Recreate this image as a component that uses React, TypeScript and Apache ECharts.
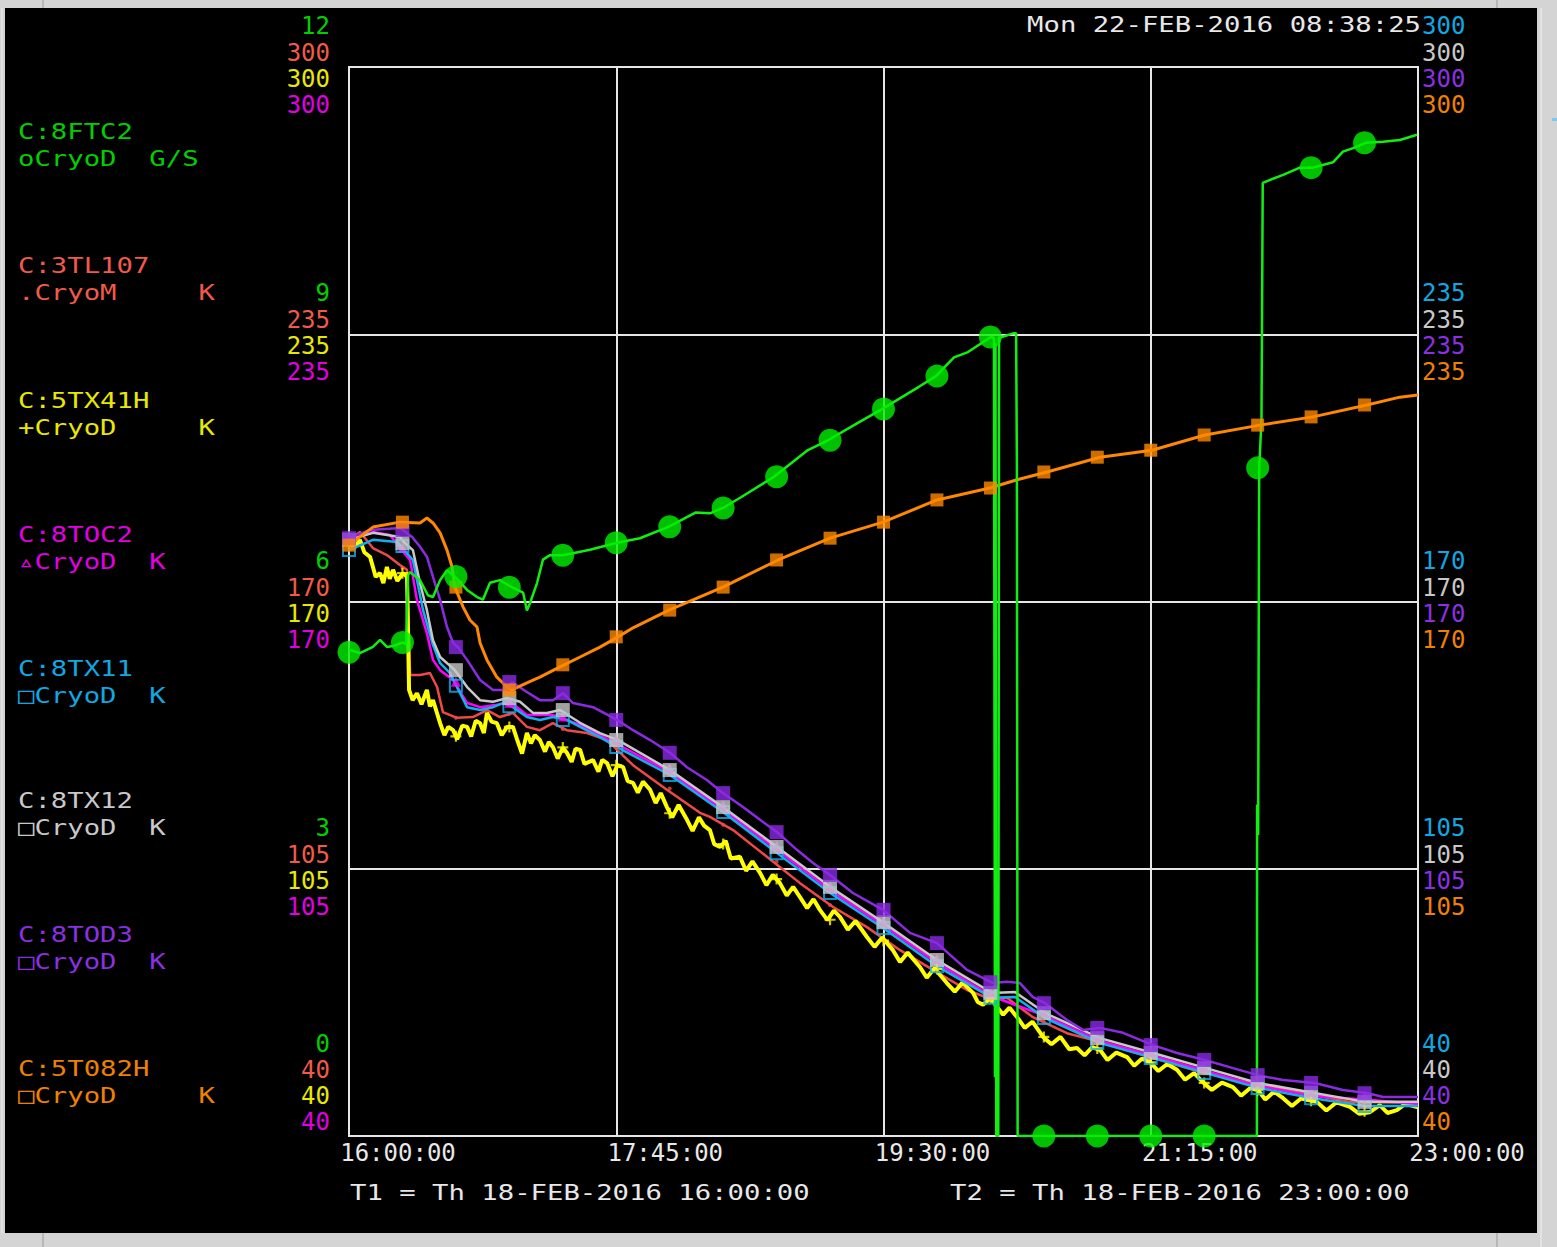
import React, { useEffect, useRef } from 'react';
import * as echarts from 'echarts';

// ---------- axes / ticks ----------
const TIME_LABELS = ['16:00:00', '17:45:00', '19:30:00', '21:15:00', '23:00:00'];
const TIME_STEP = 105; // minutes after 16:00
const K_TICKS = [40, 105, 170, 235, 300];
const G_TICKS = [0, 3, 6, 9, 12];
const MARK_T = [0, 21, 42, 63, 84, 105, 126, 147, 168, 189, 210, 231, 252, 273, 294, 315, 336, 357, 378, 399];

// ---------- series (t = minutes after 16:00) ----------
const FTC2: number[][] = [[0,5.46],[4.3,5.42],[9.4,5.49],[12.2,5.57],[14.9,5.49],[17.3,5.5],[21.2,5.54],[22.4,5.52],[23.2,6.3],[24,6.33],[27.9,6.24],[31,6.07],[33,6.05],[35.8,6.24],[38.5,6.35],[41.6,6.28],[46.4,6.13],[50.3,6.05],[52.6,6.02],[55.4,6.21],[59.3,6.24],[64,6.16],[68.4,6.1],[69.9,5.9],[71.1,5.98],[73.9,6.21],[76.2,6.47],[79,6.52],[84.1,6.52],[94.7,6.58],[105.3,6.66],[114.3,6.71],[125.7,6.84],[136.3,7],[141.8,6.99],[146.9,7.05],[154,7.17],[167,7.4],[180.3,7.7],[188.2,7.81],[199.6,8],[209.4,8.16],[223.9,8.41],[230.6,8.53],[237.7,8.74],[243.2,8.8],[252.2,8.97],[253.4,8.96],[253.8,0.66],[254,8.9],[254.3,0],[255.1,0],[255.4,8.96],[257.7,8.98],[260.9,9.01],[262.1,9.01],[262.4,7.59],[262.7,0],[356.7,0],[356.8,3.72],[357.2,3.38],[357.6,7.5],[358.1,7.79],[358.5,8.04],[359,10.7],[367,10.79],[373.6,10.87],[378.7,10.87],[386.6,10.93],[390.5,11.05],[394.5,11.09],[399.6,11.15],[406.2,11.16],[412.9,11.18],[419.6,11.24]];
const FTC2_MARKS = [5.43,5.54,6.28,6.16,6.52,6.66,6.84,7.05,7.4,7.81,8.16,8.53,8.97,0,0,0,0,7.5,10.87,11.15];

const TL107: number[][] = [[0,185],[4.3,186.9],[9.4,183],[14.9,181.3],[20,178.9],[22.8,177.7],[24,152.1],[27.9,152.1],[31.8,152.6],[34.6,149.2],[36.9,143.1],[42.4,141.7],[48.7,141.9],[54.2,143.6],[59.3,141.9],[64.4,142.9],[69.9,139.5],[75,138.7],[80.1,140.4],[85.6,138.7],[93.5,138],[101.4,136.3],[111.6,130.2],[124.9,124.2],[137.9,118.6],[141.8,117.6],[150.9,114.4],[164.2,107.9],[177.2,101.5],[190.2,95.7],[203.5,90.8],[216.5,85.2],[229.4,80.4],[242.8,75.5],[253,73.1],[258.5,73.6],[268.7,68.9],[282.1,65],[295.1,62.9],[314.7,59.2],[334.3,55.6],[354,52.9],[373.6,50.5],[393.3,48.3],[420,48]];
const TL107_MARKS = [185,178.2,141.7,142.7,139,134.5,124.5,115.7,106.7,96.2,87.4,80,73.4,67.8,63,59.2,55.4,52.2,50,48.1];

const TX41H: number[][] = [[0,184.2],[2,183],[4.3,185],[6,182],[8.3,180.8],[9.4,178.4],[10.5,176],[12.2,176.9],[13.5,174.5],[14.9,178.4],[16,175.5],[17.3,177.7],[19,175],[21.2,176.9],[22.8,176],[23.6,148.5],[25,146],[26.7,147.7],[28.5,145],[30.6,148.5],[31.8,144.5],[33,146],[34.5,143],[35.8,140.4],[37.5,137.5],[39,139.5],[40.9,138.7],[42.5,136.5],[44.5,139.8],[46.4,139.5],[48,137.2],[49.8,141],[51.5,140.4],[53,138],[54.2,142.9],[56,140.8],[58.1,140.4],[60,137.5],[62.1,139.5],[64.4,139.5],[66,136.5],[68,133],[69.9,138],[71.5,135.5],[73,137.5],[75,136.3],[77,133.5],[78.5,135.8],[80.1,134.6],[82,131.8],[84,134.5],[85.6,133.2],[87.5,131],[89,134.2],[90.8,133.9],[92.5,130.5],[95.9,131.4],[98,128.6],[99.5,131.5],[101.4,130.7],[103.5,127.5],[105.5,130.2],[107.7,129.7],[109.5,126.3],[111.6,125.9],[113.5,123.5],[115.5,126.2],[118.3,124.2],[120.5,121],[122.5,123.4],[124.9,120],[127,117.5],[129.5,120.5],[132.8,116.9],[135,114.2],[137.5,117.5],[139.5,115.5],[141.8,114.4],[143.5,111],[145.8,110.3],[148,111.8],[150,107.5],[153.6,107.9],[156,104.5],[158.5,106.8],[161.5,104],[164,101],[166.5,103.5],[169.3,101.5],[172,98.5],[174.5,100.6],[177.2,98.1],[180,95.4],[182.5,97.6],[185,95],[188,92.5],[190.5,94.8],[192.9,93.3],[196,90.2],[199,92.3],[203.5,88.4],[206.5,86],[209.5,88.3],[213.7,85.2],[216.5,82.3],[219.5,84.6],[224.3,81.1],[227,78.5],[230,80.8],[234.9,77.2],[238,75.1],[241,77.3],[245.2,74.8],[247,72.6],[249.1,71.9],[252,73.5],[254.6,71.4],[257,69.5],[259.5,71.2],[262.5,68.9],[265.5,66.3],[268.5,67.8],[272.7,64.1],[276,62.3],[279.5,64.1],[283,61.1],[286,61.4],[289,59.6],[292,61.6],[295.1,60.9],[298,58.5],[301.5,60.3],[305.7,59.2],[308.5,57.1],[311.5,58.8],[314.7,58],[318,55.8],[321.5,57.5],[325.3,56.1],[328.5,53.7],[332,55.3],[335.5,53.1],[339,51.2],[343,53],[347.3,51.9],[350.5,49.8],[354,51.6],[357.1,51.2],[360,48.9],[363.5,50.8],[367,49.2],[370.5,47.3],[374,49.1],[380.3,48.3],[384,46.2],[388,48.2],[393.3,47.1],[397,45.4],[401.1,45.8],[405,47.5],[408,45.6],[411.7,46.3],[415,47.8],[420,47]];
const TX41H_MARKS = [184.2,176.9,137.2,139.5,134.5,130.2,118.5,111,102.5,92.6,87.5,80.6,73.5,64.1,61.3,57.9,52.9,51.2,48.6,46];

const TOC2: number[][] = [[0,185],[9.4,186.9],[16.1,186.2],[20,183],[24,180.1],[26.7,170.4],[30.6,162.3],[33,155.8],[35.8,153.3],[40.9,150.9],[46.4,145.3],[51.5,144.3],[57.4,144.8],[63.3,145.6],[69.9,142.4],[80.1,142.4],[90.8,140],[105.3,135.3],[126.1,128.5],[146.9,119.5],[168.2,109.6],[189,99.8],[209.8,91.3],[231,82.1],[252.6,74],[273.5,69.2],[295.1,63.1],[315.9,59.5],[336.7,55.8],[357.1,52.2],[378.7,49.7],[400.4,48.8],[420,47.8]];
const TOC2_MARKS = [185,183,150.5,145.4,142,136.5,129.5,120.5,110.6,100.8,92.3,83.1,75,70.2,64.1,60.5,56.8,53.2,50.7,49.8];

const TX11: number[][] = [[0,182.5],[9.4,185],[18.9,184.5],[25.1,180.1],[29.1,167.9],[33,159.4],[35.8,155],[39.7,152.6],[42.4,149.2],[46.4,144.3],[51.5,143.6],[56.6,144.3],[60.5,145.3],[64.4,144.3],[69.9,141.9],[75,141.2],[80.1,141.9],[85.6,141.2],[90.8,139.5],[98.6,137],[105.3,134.6],[126.1,127.8],[146.9,118.8],[168.2,108.8],[189,99.1],[209.8,90.6],[231,81.3],[252.6,73.6],[261.7,73.8],[273.5,68.7],[295.1,62.6],[315.9,59],[336.7,55.3],[357.1,51.7],[378.7,49.2],[399.2,47.3],[420,47.3]];
const TX11_MARKS = [182.5,183.5,149.5,144.5,141.2,134.6,127.8,118.8,108.8,99.1,90.6,81.3,73.6,68.7,62.6,59,55.3,51.7,49.2,47.3];

const TX12: number[][] = [[0,185],[9.4,186.7],[20,185.7],[22,184.2],[25.1,182.5],[27.9,174.5],[30.6,167.9],[33,160.6],[35.8,156.5],[41.6,153.3],[46.4,149.2],[51.5,146],[56.6,145.6],[62.1,146.5],[67.2,145.6],[72.3,142.9],[77.8,142.9],[82.9,143.6],[90.8,140.5],[98.6,138],[105.7,136.3],[126.1,129],[146.9,120],[168.2,110.3],[189,100.6],[209.8,92],[231,82.8],[252.6,74.8],[261.7,75],[273.5,69.9],[295.1,63.8],[315.9,60.2],[336.7,56.5],[357.1,52.9],[378.7,50.5],[399.2,48.3],[420,48.3]];
const TX12_MARKS = [185,184.2,153.3,146.5,143.6,136.3,129,120,110.3,100.6,92,82.8,74.8,69.9,63.8,60.2,56.5,52.9,50.5,48.3];

const TOD3: number[][] = [[0,185.4],[8.3,187.4],[20,187.9],[24.8,185.7],[27.9,183.3],[30.6,180.9],[33,176],[35.8,170.4],[38.5,163.8],[40.9,159.9],[42.8,158.9],[46.4,155.8],[51.5,150.9],[56.6,148.5],[62.1,148.5],[64,150.4],[69.9,148],[75,146],[80.1,146],[84.1,147.7],[88,145.3],[95.9,144.3],[105.3,141.2],[111.6,138.7],[118.3,136.3],[126.1,133.2],[132.8,129.7],[140.6,126.6],[146.9,123.4],[154.8,120],[161.5,116.9],[168.2,113.9],[176,109.6],[182.3,106.4],[189,103.5],[198,99.1],[209.8,95],[220.4,89.4],[231,86.9],[242.8,80.4],[253,77.2],[258.5,77.5],[263.6,77.2],[268.7,73.8],[273.5,72.3],[282.1,68.2],[288.4,65.8],[295.1,66.3],[304.1,65.1],[315.9,62.1],[325.3,60.2],[336.3,58.5],[347.3,56.5],[357.1,54.8],[367,53.6],[379.5,52.9],[390.5,51.2],[400.4,50.4],[406.2,49.5],[420,49.5]];
const TOD3_MARKS = [185.4,187.4,158.9,150.4,147.7,141.2,133.2,123.4,113.9,103.5,95,86.9,77.4,72.3,66.3,62.1,58.5,54.8,52.9,50.4];

const T082H: number[][] = [[0,183.7],[9.4,188.1],[20,189.3],[27.9,189.1],[30.6,190.3],[33,189.1],[35.8,186.7],[38.5,182.5],[40.5,178.4],[41.6,173.5],[44.8,168.7],[47.5,165.5],[50.3,163.8],[51.5,159.9],[54.2,155.8],[58.1,151.6],[62.1,149.2],[64,148.5],[69.9,150.2],[75,151.6],[82.9,154.1],[90.8,156.5],[98.6,158.9],[105.7,161.4],[111.6,163.6],[125.7,167.9],[146.9,173.5],[168.6,180.1],[189,185.4],[209.8,189.3],[231,194.7],[251.8,197.6],[262.5,199.6],[274.2,201.5],[295.1,205.1],[315.5,206.8],[336.3,210.5],[357.9,212.9],[378.7,214.9],[399.9,217.8],[412.9,219.7],[420,220.2]];
const T082H_MARKS = [183.7,189.3,173.5,148.5,154.6,161.4,167.9,173.5,180.1,185.4,189.3,194.7,197.6,201.5,205.1,206.8,210.5,212.9,214.9,217.8];

// ---------- texts ----------
const LEGEND = [
  { name: 'C:8FTC2', unit: 'oCryoD  G/S', y: 131, color: '#00d000' },
  { name: 'C:3TL107', unit: '.CryoM     K', y: 265, color: '#f05a4a' },
  { name: 'C:5TX41H', unit: '+CryoD     K', y: 400, color: '#e8e800' },
  { name: 'C:8TOC2', unit: '\u25B5CryoD  K', y: 534, color: '#e000e0' },
  { name: 'C:8TX11', unit: '\u25A1CryoD  K', y: 668, color: '#10a8e0' },
  { name: 'C:8TX12', unit: '\u25A1CryoD  K', y: 800, color: '#c8c8c8' },
  { name: 'C:8TOD3', unit: '\u25A1CryoD  K', y: 934, color: '#8a30e0' },
  { name: 'C:5T082H', unit: '\u25A1CryoD     K', y: 1068, color: '#f08000' },
];
const DATE_TEXT = 'Mon 22-FEB-2016 08:38:25';
const T1_TEXT = 'T1 = Th 18-FEB-2016 16:00:00';
const T2_TEXT = 'T2 = Th 18-FEB-2016 23:00:00';

const FONT = 'DejaVu Sans Mono';
const AX_FS = 24;
const SHIFT_TOP = [-41, -14, 12, 38];
const SHIFT_BOTTOM = [-92, -66, -40, -14];

function rich(color: string, d: number) {
  return {
    color,
    fontFamily: FONT,
    fontSize: AX_FS,
    padding: d < 0 ? [0, 0, -2 * d, 0] : [2 * d, 0, 0, 0],
  };
}

function yAxis(position: 'left' | 'right', slot: number, color: string, ticks: number[], green = false) {
  const ax: any = {
    type: 'value',
    min: ticks[0],
    max: ticks[ticks.length - 1],
    position,
    offset: 0,
    axisLine: { show: false },
    axisTick: { show: false },
    splitLine: green ? { show: true, lineStyle: { color: '#e6e6e6', width: 2 } } : { show: false },
    axisLabel: {
      margin: position === 'left' ? 19 : 4,
      formatter: (v: number) => (v === ticks[0] ? `{b|${v}}` : `{a|${v}}`),
      rich: { a: rich(color, SHIFT_TOP[slot]), b: rich(color, SHIFT_BOTTOM[slot]) },
    },
  };
  if (green) ax.interval = ticks[1] - ticks[0];
  else ax.axisLabel.customValues = ticks;
  return ax;
}

function line(data: number[][], yi: number, color: string, width: number, z: number) {
  return {
    type: 'line',
    data,
    yAxisIndex: yi,
    showSymbol: false,
    symbol: 'none',
    lineStyle: { color, width },
    z,
    silent: true,
  };
}

function marks(vals: number[], yi: number, symbol: string, size: number, itemStyle: any, z: number) {
  return {
    type: 'scatter',
    data: MARK_T.map((t, i) => [t, vals[i]]),
    yAxisIndex: yi,
    symbol,
    symbolSize: size,
    itemStyle,
    z,
    silent: true,
  };
}

function textEl(text: string, x: number, y: number, color: string, align = 'left') {
  return {
    type: 'text',
    x,
    y,
    scaleX: 1.24,
    silent: true,
    style: { text, fill: color, fontFamily: FONT, fontSize: 22, align, verticalAlign: 'middle' },
  };
}

export default function App() {
  const ref = useRef<HTMLDivElement>(null);
  useEffect(() => {
    const chart = echarts.init(ref.current!, null, { renderer: 'svg' });
    const frame = '#d4d4d4';
    const graphic: any[] = [
      { type: 'rect', shape: { x: 0, y: 0, width: 1557, height: 8 }, style: { fill: frame } },
      { type: 'rect', shape: { x: 0, y: 0, width: 5, height: 1247 }, style: { fill: frame } },
      { type: 'rect', shape: { x: 1537, y: 0, width: 20, height: 1247 }, style: { fill: frame } },
      { type: 'rect', shape: { x: 0, y: 1233, width: 1557, height: 14 }, style: { fill: frame } },
      { type: 'line', shape: { x1: 2, y1: 8, x2: 2, y2: 1233 }, style: { stroke: '#eeeeee', lineWidth: 1 } },
      { type: 'line', shape: { x1: 1541, y1: 8, x2: 1541, y2: 1247 }, style: { stroke: '#f2f2f2', lineWidth: 1 } },
      { type: 'line', shape: { x1: 43, y1: 0, x2: 43, y2: 8 }, style: { stroke: '#9a9a9a', lineWidth: 1 } },
      { type: 'line', shape: { x1: 1497, y1: 0, x2: 1497, y2: 8 }, style: { stroke: '#9a9a9a', lineWidth: 1 } },
      { type: 'line', shape: { x1: 43, y1: 1233, x2: 43, y2: 1247 }, style: { stroke: '#9a9a9a', lineWidth: 1 } },
      { type: 'line', shape: { x1: 1497, y1: 1233, x2: 1497, y2: 1247 }, style: { stroke: '#9a9a9a', lineWidth: 1 } },
      { type: 'rect', shape: { x: 1552, y: 118, width: 5, height: 3 }, style: { fill: '#7ec8ee' } },
      textEl(DATE_TEXT, 1421, 24, '#e8e8e8', 'right'),
      textEl(T1_TEXT, 350, 1192, '#e8e8e8'),
      textEl(T2_TEXT, 950, 1192, '#e8e8e8'),
    ];
    LEGEND.forEach((l) => {
      graphic.push(textEl(l.name, 18, l.y, l.color));
      graphic.push(textEl(l.unit, 18, l.y + 27, l.color));
    });

    const option: any = {
      animation: false,
      backgroundColor: '#000000',
      grid: {
        left: 349,
        top: 67,
        width: 1069,
        height: 1069,
        show: true,
        backgroundColor: '#000000',
        borderColor: '#e6e6e6',
        borderWidth: 2,
      },
      xAxis: {
        type: 'value',
        min: 0,
        max: 420,
        interval: TIME_STEP,
        axisLine: { show: false },
        axisTick: { show: false },
        splitLine: { show: true, lineStyle: { color: '#e6e6e6', width: 2 } },
        axisLabel: {
          margin: 5,
          formatter: (v: number) => `{a|${TIME_LABELS[Math.round(v / TIME_STEP)]}}`,
          rich: { a: { color: '#e8e8e8', fontFamily: FONT, fontSize: AX_FS, padding: [0, 0, 0, 98] } },
        },
      },
      yAxis: [
        yAxis('left', 0, '#00d000', G_TICKS, true),
        yAxis('left', 1, '#f05a4a', K_TICKS),
        yAxis('left', 2, '#e8e800', K_TICKS),
        yAxis('left', 3, '#e000e0', K_TICKS),
        yAxis('right', 0, '#10a8e0', K_TICKS),
        yAxis('right', 1, '#c8c8c8', K_TICKS),
        yAxis('right', 2, '#8a30e0', K_TICKS),
        yAxis('right', 3, '#f08000', K_TICKS),
      ],
      series: [
        line(TL107, 1, '#f04848', 2.5, 3),
        line(TX41H, 2, '#ffff00', 4, 4),
        line(TOC2, 3, '#ff00ff', 2.5, 5),
        line(TX11, 4, '#10b0f0', 2.5, 6),
        line(TX12, 5, '#c8c8c8', 2.5, 7),
        line(TOD3, 6, '#8a2be2', 2.5, 8),
        line(T082H, 7, '#ff8800', 3, 9),
        line(FTC2, 0, '#10f010', 2.5, 10),
        marks(TL107_MARKS, 1, 'circle', 4, { color: '#f04848' }, 20),
        marks(TX41H_MARKS, 2, 'path://M4,0h2v4h4v2h-4v4h-2v-4h-4v-2h4z', 11, { color: '#ffff00' }, 21),
        marks(TOC2_MARKS, 3, 'triangle', 10, { color: '#ff00ff' }, 22),
        marks(TX11_MARKS, 4, 'rect', 12, { color: 'rgba(0,0,0,0)', borderColor: '#10b0f0', borderWidth: 2 }, 23),
        marks(TX12_MARKS, 5, 'rect', 14, { color: '#c8c8c8' }, 24),
        marks(TOD3_MARKS, 6, 'rect', 14, { color: '#8a2be2' }, 25),
        marks(T082H_MARKS, 7, 'rect', 13, { color: '#ff8800' }, 26),
        marks(FTC2_MARKS, 0, 'circle', 23, { color: '#00f000' }, 27),
      ],
      graphic,
    };
    chart.setOption(option);
    return () => chart.dispose();
  }, []);
  return <div ref={ref} style={{ position: 'fixed', left: 0, top: 0, width: 1557, height: 1247 }} />;
}
